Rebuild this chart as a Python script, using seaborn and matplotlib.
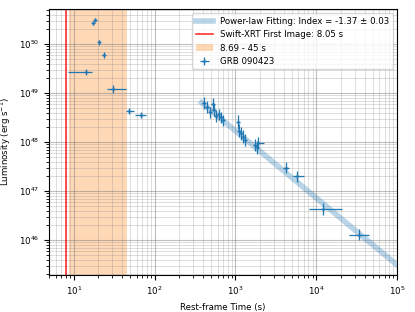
import numpy as np
import matplotlib
matplotlib.use("Agg")
import matplotlib.pyplot as plt
import seaborn as sns
import pandas as pd

# Data
t = [17.5, 18.5, 20.5, 23.4, 14.2, 30.8, 48.5, 67.7,
     406, 443, 483, 526, 541, 573, 624, 661, 700,
     1072, 1104, 1170, 1237, 1310, 1740, 1842, 1894,
     4200, 5690, 12100, 33500]
L = [2.7e50, 3.1e50, 1.08e50, 6.0e49, 2.7e49, 1.2e49, 4.3e48, 3.5e48,
     6.3e48, 5.2e48, 4.1e48, 6.0e48, 4.5e48, 3.4e48, 3.7e48, 3.2e48, 2.8e48,
     2.6e48, 1.7e48, 1.5e48, 1.3e48, 1.1e48, 8.7e47, 7.9e47, 9.6e47,
     3.0e47, 2.0e47, 4.3e46, 1.3e46]
t_lo = [0.4, 0.4, 0.4, 1.0, 5.65, 5.3, 4.6, 11.1,
        18, 18, 18, 22, 22, 22, 27, 27, 27,
        36, 36, 36, 45, 45, 55, 55, 55,
        350, 550, 3950, 8100]
t_hi = [0.4, 0.4, 0.4, 1.0, 2.7, 13.1, 7.0, 10.3,
        18, 18, 18, 22, 22, 22, 27, 27, 27,
        36, 36, 36, 45, 45, 55, 55, 330,
        350, 1310, 8700, 11100]
L_frac = [0.12, 0.12, 0.15, 0.15, 0.15, 0.2, 0.15, 0.15,
          0.3, 0.3, 0.3, 0.35, 0.35, 0.3, 0.3, 0.3, 0.3,
          0.4, 0.35, 0.35, 0.35, 0.35, 0.35, 0.35, 0.35,
          0.3, 0.3, 0.3, 0.3]

fit_t = [381, 1e5]
fit_L = [6.37e48, 3.09e45]

xrt_time = 8.05
span_lo, span_hi = 8.69, 45

df = pd.DataFrame({"t": t, "L": L})
fit_df = pd.DataFrame({"t": fit_t, "L": fit_L})

plt.rcParams["font.size"] = 6.25
fig = plt.figure(figsize=(4.15, 3.12), dpi=100)
ax = fig.add_axes([0.118, 0.119, 0.839, 0.852])

sns.lineplot(data=fit_df, x="t", y="L", ax=ax, color="C0", lw=4, alpha=0.3,
             label="Power-law Fitting: Index = -1.37 ± 0.03")
ax.axvline(xrt_time, color="red", lw=1.2, alpha=0.8, label="Swift-XRT First Image: 8.05 s")
ax.axvspan(span_lo, span_hi, color="C1", alpha=0.3, lw=0, label="8.69 - 45 s")

Larr = np.array(L)
frac = np.array(L_frac)
ax.errorbar(df["t"], df["L"], xerr=[t_lo, t_hi], yerr=[Larr * frac / (1 + frac), Larr * frac],
            fmt="+", color="C0", ms=3, elinewidth=0.9, label="GRB 090423")

ax.set_xscale("log")
ax.set_yscale("log")
ax.set_xlim(4.93, 1e5)
ax.set_ylim(1.95e45, 5.2e50)
ax.grid(True, which="major", color="gray", alpha=0.5, lw=0.8)
ax.grid(True, which="minor", color="gray", alpha=0.3, lw=0.6)
ax.set_xlabel("Rest-frame Time (s)")
ax.set_ylabel(r"Luminosity (erg s$^{-1}$)")
ax.legend(loc="upper right", fontsize=6.25)

fig.savefig("out.png", dpi=100)
